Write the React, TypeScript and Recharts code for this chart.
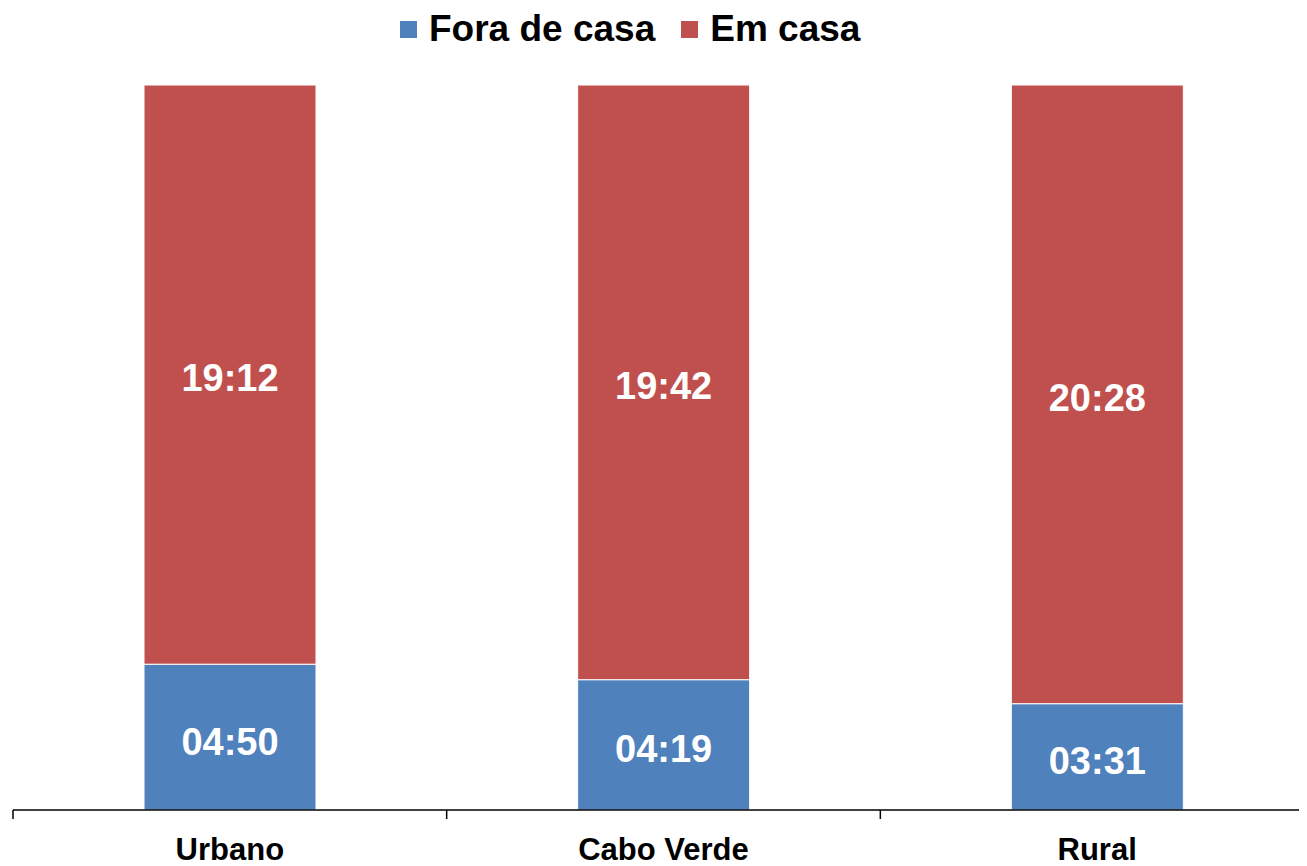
import { BarChart, Bar, XAxis, YAxis, Legend, LabelList } from "recharts";

const categories = ["Urbano", "Cabo Verde", "Rural"];
// minutes per day
const foraDeCasa = [290, 259, 211];
const emCasa = [1152, 1182, 1228];

const seriesNames = ["Fora de casa", "Em casa"];
const seriesColors = ["#4F81BD", "#C0504D"];

const data = categories.map((name, i) => ({
  name,
  fora: foraDeCasa[i],
  casa: emCasa[i],
}));

const FONT = "'Liberation Sans', Arial, sans-serif";

const fmt = (v: any) => {
  const m = Number(v);
  const h = Math.floor(m / 60);
  const r = m % 60;
  return `${String(h).padStart(2, "0")}:${String(r).padStart(2, "0")}`;
};

// category label plus the separator ticks between categories
const CategoryTick = (props: any) => {
  const { x, y, payload, index, width, visibleTicksCount } = props;
  const band = width / visibleTicksCount;
  const left = x - band / 2;
  const right = x + band / 2;
  return (
    <g>
      <line x1={left} x2={left} y1={y} y2={y + 9} stroke="#000" strokeWidth={1.5} />
      {index === visibleTicksCount - 1 && (
        <line x1={right} x2={right} y1={y} y2={y + 9} stroke="#000" strokeWidth={1.5} />
      )}
      <text
        x={x}
        y={y + 50}
        textAnchor="middle"
        fontFamily={FONT}
        fontWeight="bold"
        fontSize={31}
        fill="#000"
      >
        {payload.value}
      </text>
    </g>
  );
};

const LegendContent = () => (
  <div style={{ height: 56 }}>
    <div
      style={{
        height: 42,
        display: "flex",
        alignItems: "center",
        paddingLeft: 392,
        fontFamily: FONT,
        fontWeight: "bold",
        fontSize: 37,
        lineHeight: "42px",
        color: "#000",
      }}
    >
      {seriesNames.map((s, i) => (
        <div key={s} style={{ display: "flex", alignItems: "center", marginRight: 26 }}>
          <span
            style={{
              width: 17,
              height: 17,
              background: seriesColors[i],
              display: "inline-block",
              marginRight: 12,
            }}
          />
          <span>{s}</span>
        </div>
      ))}
    </div>
  </div>
);

const labelStyle = {
  fill: "#fff",
  fontFamily: FONT,
  fontWeight: "bold",
  fontSize: 38,
};

export default function App() {
  return (
    <div style={{ width: 1299, height: 858, overflow: "hidden" }}>
      <BarChart
        width={1306}
        height={858}
        data={data}
        stackOffset="expand"
        margin={{ top: 21, right: 0, left: 5, bottom: 0 }}
      >
        <Legend
          verticalAlign="top"
          content={<LegendContent />}
          wrapperStyle={{ top: 0, left: 0, width: 1299 }}
        />
        <XAxis
          dataKey="name"
          height={56}
          tickLine={false}
          tickSize={0}
          tickMargin={0}
          axisLine={{ stroke: "#000", strokeWidth: 1.5 }}
          tick={<CategoryTick />}
          interval={0}
        />
        <YAxis hide domain={[0, 1]} />
        <Bar
          dataKey="fora"
          name={seriesNames[0]}
          stackId="a"
          fill={seriesColors[0]}
          stroke="#fff"
          strokeWidth={1}
          barSize={172}
          isAnimationActive={false}
        >
          <LabelList dataKey="fora" position="center" formatter={fmt} dy={4} {...labelStyle} />
        </Bar>
        <Bar
          dataKey="casa"
          name={seriesNames[1]}
          stackId="a"
          fill={seriesColors[1]}
          stroke="#fff"
          strokeWidth={1}
          barSize={172}
          isAnimationActive={false}
        >
          <LabelList dataKey="casa" position="center" formatter={fmt} dy={3} {...labelStyle} />
        </Bar>
      </BarChart>
    </div>
  );
}
